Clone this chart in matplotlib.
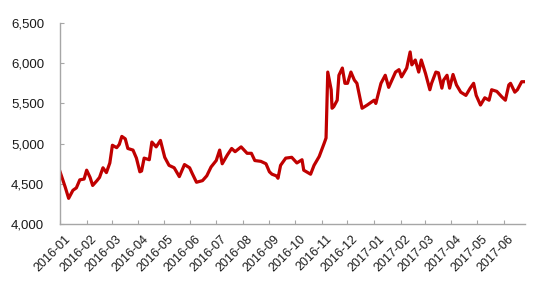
import pandas as pd
import numpy as np
import matplotlib
matplotlib.use("Agg")
import matplotlib.pyplot as plt
import matplotlib.dates as mdates
import matplotlib.transforms as mtransforms
from matplotlib.ticker import FuncFormatter

plt.rcParams['font.family'] = ['Liberation Sans', 'DejaVu Sans']

# values
dates = ['2016-01-01', '2016-01-07', '2016-01-11', '2016-01-16', '2016-01-20', '2016-01-24',
         '2016-01-29', '2016-02-01', '2016-02-05', '2016-02-08', '2016-02-13', '2016-02-16',
         '2016-02-20', '2016-02-24', '2016-02-28', '2016-03-02', '2016-03-07', '2016-03-10',
         '2016-03-13', '2016-03-17', '2016-03-20', '2016-03-26', '2016-03-30', '2016-04-03',
         '2016-04-05', '2016-04-08', '2016-04-14', '2016-04-17', '2016-04-22', '2016-04-27',
         '2016-05-02', '2016-05-07', '2016-05-13', '2016-05-19', '2016-05-25', '2016-05-31',
         '2016-06-03', '2016-06-08', '2016-06-15', '2016-06-20', '2016-06-25', '2016-07-01',
         '2016-07-05', '2016-07-08', '2016-07-14', '2016-07-19', '2016-07-23', '2016-07-30',
         '2016-08-06', '2016-08-11', '2016-08-15', '2016-08-22', '2016-08-28', '2016-09-01',
         '2016-09-04', '2016-09-09', '2016-09-11', '2016-09-14', '2016-09-20', '2016-09-27',
         '2016-10-03', '2016-10-09', '2016-10-11', '2016-10-19', '2016-10-23', '2016-10-29',
         '2016-11-04', '2016-11-06', '2016-11-08', '2016-11-12', '2016-11-13', '2016-11-15',
         '2016-11-19', '2016-11-21', '2016-11-25', '2016-11-28', '2016-12-01', '2016-12-05',
         '2016-12-09', '2016-12-12', '2016-12-18', '2016-12-24', '2017-01-01', '2017-01-03',
         '2017-01-09', '2017-01-14', '2017-01-18', '2017-01-26', '2017-01-30', '2017-02-02',
         '2017-02-08', '2017-02-12', '2017-02-14', '2017-02-18', '2017-02-22', '2017-02-25',
         '2017-03-02', '2017-03-07', '2017-03-09', '2017-03-14', '2017-03-17', '2017-03-21',
         '2017-03-23', '2017-03-27', '2017-03-30', '2017-04-03', '2017-04-07', '2017-04-12',
         '2017-04-18', '2017-04-23', '2017-04-27', '2017-04-30', '2017-05-05', '2017-05-10',
         '2017-05-15', '2017-05-18', '2017-05-24', '2017-05-30', '2017-06-03', '2017-06-07',
         '2017-06-09', '2017-06-14', '2017-06-17', '2017-06-22', '2017-06-26']
values = [4650, 4460, 4320, 4420, 4450, 4550,
          4560, 4670, 4580, 4480, 4540, 4580,
          4700, 4640, 4760, 4980, 4950, 4990,
          5090, 5060, 4940, 4920, 4820, 4650,
          4660, 4820, 4800, 5020, 4960, 5040,
          4830, 4730, 4700, 4590, 4740, 4700,
          4630, 4520, 4540, 4600, 4710, 4790,
          4920, 4750, 4860, 4940, 4900, 4960,
          4880, 4880, 4790, 4780, 4750, 4650,
          4620, 4600, 4570, 4730, 4820, 4830,
          4760, 4800, 4670, 4620, 4730, 4840,
          5010, 5070, 5890, 5670, 5440, 5460,
          5540, 5850, 5940, 5750, 5750, 5890,
          5790, 5750, 5440, 5480, 5540, 5500,
          5750, 5850, 5700, 5890, 5920, 5830,
          5940, 6140, 5980, 6040, 5890, 6040,
          5870, 5670, 5750, 5890, 5880, 5690,
          5790, 5850, 5690, 5860, 5730, 5640,
          5600, 5690, 5750, 5600, 5480, 5570,
          5540, 5670, 5650, 5580, 5540, 5730,
          5750, 5640, 5670, 5770, 5770]

x = pd.to_datetime(dates)

fig = plt.figure(figsize=(5.51, 2.84), dpi=100)
ax = fig.add_axes([0.109, 0.211, 0.844, 0.708])
ax.plot(x, values, color='#C00000', lw=2.3)

ax.set_ylim(4000, 6500)
ax.set_yticks(np.arange(4000, 6501, 500))
ax.yaxis.set_major_formatter(FuncFormatter(lambda v, p: f'{int(v):,}'))
ax.set_xlim(pd.Timestamp('2016-01-01'), pd.Timestamp('2017-06-26'))
ax.xaxis.set_major_locator(mdates.MonthLocator())
ax.xaxis.set_major_formatter(mdates.DateFormatter('%Y-%m'))

for s in ['top', 'right']:
    ax.spines[s].set_visible(False)
for s in ['left', 'bottom']:
    ax.spines[s].set_color('#A6A6A6')
    ax.spines[s].set_linewidth(1.0)
ax.tick_params(direction='in', length=3, color='#A6A6A6', labelcolor='#1a1a1a')
ax.tick_params(axis='y', pad=11.5, labelsize=9.5)
ax.tick_params(axis='x', pad=6.5, labelsize=9)
shift = mtransforms.ScaledTranslation(4 / 100, 0, fig.dpi_scale_trans)
for lab in ax.get_xticklabels():
    lab.set_rotation(45)
    lab.set_ha('right')
    lab.set_va('top')
    lab.set_rotation_mode('anchor')
    lab.set_transform(lab.get_transform() + shift)

fig.savefig('out.png', dpi=100)
